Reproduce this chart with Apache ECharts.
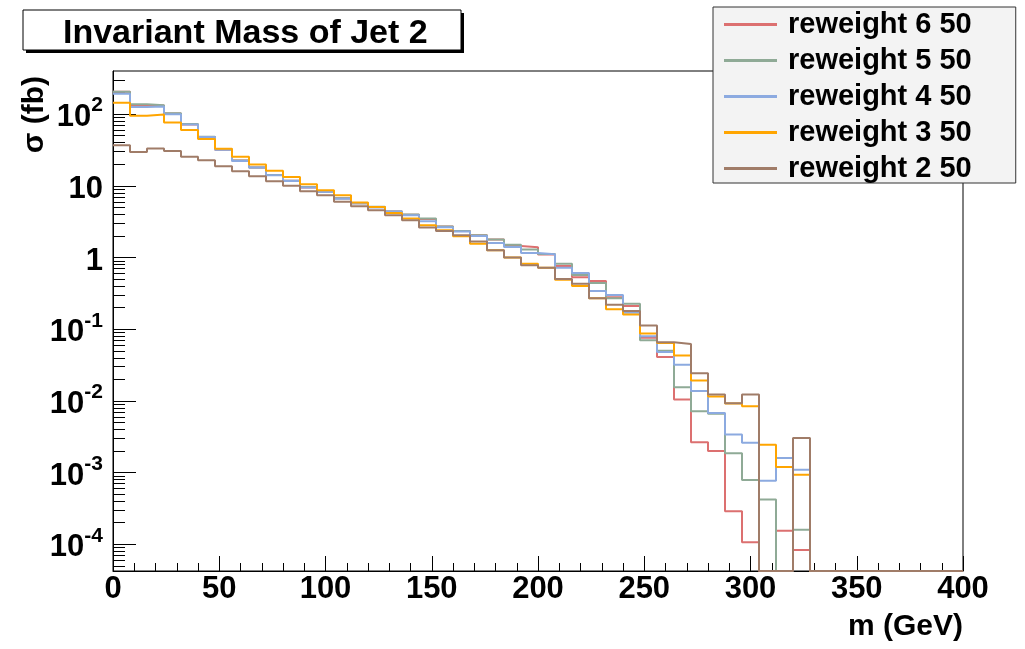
<!DOCTYPE html>
<html><head><meta charset="utf-8">
<script src="https://cdn.jsdelivr.net/npm/echarts@6/dist/echarts.min.js"></script>
<style>html,body{margin:0;padding:0;background:#fff}#c{width:1025px;height:649px}</style>
</head><body><div id="c"></div><script>
// bin edges (GeV), 50 bins of 8 GeV
const binEdges = [0,8,16,24,32,40,48,56,64,72,80,88,96,104,112,120,128,136,144,152,160,168,176,184,192,200,
  208,216,224,232,240,248,256,264,272,280,288,296,304,312,320,328,336,344,352,360,368,376,384,392,400];
const seriesNames = ['reweight 6 50','reweight 5 50','reweight 4 50','reweight 3 50','reweight 2 50'];
// cross sections per bin (fb)
const rw6 = [205,133,132,102,72,48,32,22.5,18,14.2,11.8,9.5,8.2,6.7,5.7,5.05,4.4,3.95,3.45,2.7,2.35,2.05,1.78,1.45,1.39,1.1,0.76,0.53,0.47,0.28,0.21,0.076,0.041,0.0105,0.00265,0.002,0.00029,0.000107,0,0.000155,0.000083,0,0,0,0,0,0,0,0,0];
const rw5 = [205,138,133,103,73,48.5,32.5,22.5,18,14.2,11.8,9.6,8.2,6.7,5.7,5.1,4.4,4.0,3.5,2.7,2.35,2.05,1.78,1.51,1.29,1.12,0.82,0.57,0.44,0.27,0.226,0.07,0.05,0.0155,0.0072,0.0066,0.00186,0.00079,0.00042,0,0.00016,0,0,0,0,0,0,0,0,0];
const rw4 = [192,126,128,100,72,48,32,22.3,18,14.1,11.7,9.5,8.2,6.6,5.7,5.0,4.4,3.9,3.2,2.65,2.3,2.0,1.6,1.4,1.16,1.11,0.72,0.61,0.34,0.30,0.17,0.08,0.048,0.032,0.0137,0.0068,0.0034,0.0026,0.00077,0.0016,0.0011,0,0,0,0,0,0,0,0,0];
const rw3 = [144,95,99,76.5,60,45,33,25.4,19.8,16.2,13.3,10.5,8.7,7.4,5.85,5.07,4.19,3.5,2.82,2.4,1.98,1.56,1.26,1.0,0.82,0.72,0.49,0.40,0.27,0.19,0.16,0.087,0.064,0.043,0.0193,0.0115,0.0092,0.0084,0.00245,0.0012,0.00093,0,0,0,0,0,0,0,0,0];
const rw2 = [36.9,29.7,33.2,30.7,25.4,22.8,18.8,16.0,13.6,11.6,10.0,8.4,7.4,6.0,5.2,4.56,3.88,3.31,2.62,2.35,2.04,1.68,1.26,1.0,0.78,0.72,0.5,0.43,0.27,0.22,0.18,0.113,0.066,0.062,0.0244,0.0123,0.0093,0.0123,0,0,0.00305,0,0,0,0,0,0,0,0,0];
const seriesValues = [rw6, rw5, rw4, rw3, rw2];
const colors = ['#dc7070','#8faa96','#8caae0','#ffa500','#a07c68'];
// axis ticks
const xTicks = [0,50,100,150,200,250,300,350,400];
const yMajorTicks = [1e-4,1e-3,1e-2,1e-1,1,10,100];
const yMinorTicks = [5e-5,6e-5,7e-5,8e-5,9e-5,
  2e-4,3e-4,4e-4,5e-4,6e-4,7e-4,8e-4,9e-4,
  2e-3,3e-3,4e-3,5e-3,6e-3,7e-3,8e-3,9e-3,
  2e-2,3e-2,4e-2,5e-2,6e-2,7e-2,8e-2,9e-2,
  0.2,0.3,0.4,0.5,0.6,0.7,0.8,0.9,
  2,3,4,5,6,7,8,9,
  20,30,40,50,60,70,80,90,
  200,300];
const yMin = 4.24e-5, yMax = 400;

const FONT = 'Liberation Sans';
function histData(vals){
  const d = vals.map((v,i)=>[binEdges[i], v > 0 ? v : yMin]);
  d.push([binEdges[binEdges.length-1], d[d.length-1][1]]);
  return d;
}
function yLabel(v){
  const n = Math.round(Math.log10(v));
  if (n === 0) return '{b|1}';
  if (n === 1) return '{b|10}';
  return '{b|10}{s|' + n + '}';
}
const chart = echarts.init(document.getElementById('c'), null, {renderer:'canvas'});
chart.setOption({
  animation:false,
  backgroundColor:'#fff',
  title:{
    text:'Invariant Mass of Jet 2', left:63, top:14, padding:0, z:10,
    textStyle:{fontFamily:FONT, fontWeight:'bold', fontSize:34, color:'#000', lineHeight:40}
  },
  legend:{
    data:seriesNames, orient:'vertical', left:713, top:7,
    padding:[3,44,0,11], itemGap:7, itemWidth:53, itemHeight:3, icon:'rect',
    backgroundColor:'#f3f3f3', borderColor:'#333', borderWidth:1,
    textStyle:{fontFamily:FONT, fontWeight:'bold', fontSize:29, lineHeight:28, color:'#000', padding:[0,0,0,6]}
  },
  grid:{left:113, right:62, top:71, bottom:78, show:true, borderColor:'#000', borderWidth:1, backgroundColor:'#fff'},
  xAxis:{
    type:'value', min:0, max:400, interval:50,
    axisLine:{lineStyle:{color:'#000', width:1}},
    axisTick:{inside:true, length:15, lineStyle:{color:'#000'}},
    minorTick:{show:true, splitNumber:5, length:8, lineStyle:{color:'#000'}},
    splitLine:{show:false},
    axisLabel:{customValues:xTicks, fontFamily:FONT, fontWeight:'bold', fontSize:31, color:'#000', margin:3},
    name:'m (GeV)', nameLocation:'end', nameGap:0,
    nameTextStyle:{fontFamily:FONT, fontWeight:'bold', fontSize:30, color:'#000', align:'right', verticalAlign:'top', padding:[41,0,0,0]}
  },
  yAxis:[{
    type:'log', logBase:10, min:yMin, max:yMax,
    axisLine:{lineStyle:{color:'#000', width:1}},
    axisTick:{inside:true, length:23, customValues:yMajorTicks, lineStyle:{color:'#000'}},
    splitLine:{show:false},
    axisLabel:{customValues:yMajorTicks, formatter:yLabel, margin:10, color:'#000',
      rich:{
        b:{fontFamily:FONT, fontWeight:'bold', fontSize:31, lineHeight:38, verticalAlign:'bottom', color:'#000'},
        s:{fontFamily:FONT, fontWeight:'bold', fontSize:21, lineHeight:22, verticalAlign:'top', color:'#000'}
      }}
  },{
    type:'log', logBase:10, min:yMin, max:yMax, position:'left',
    axisLine:{show:false},
    axisTick:{inside:true, length:12, customValues:yMinorTicks, lineStyle:{color:'#000'}},
    axisLabel:{show:false}, splitLine:{show:false}
  }],
  graphic:[
    {type:'rect', z:1, shape:{x:26, y:13, width:438, height:40}, style:{fill:'#000'}},
    {type:'rect', z:2, shape:{x:23, y:10, width:438, height:40}, style:{fill:'#fff', stroke:'#000', lineWidth:1}},
    {type:'text', x:20, y:76, rotation:Math.PI/2,
     style:{text:'σ (fb)', font:'bold 30px "Liberation Sans"', fill:'#000', align:'right', verticalAlign:'top'}}
  ],
  series: seriesNames.map((name,k)=>({
    name, type:'line', step:'end', symbol:'none', yAxisIndex:0,
    data: histData(seriesValues[k]),
    lineStyle:{color:colors[k], width:2}, itemStyle:{color:colors[k]}
  }))
});
</script></body></html>
